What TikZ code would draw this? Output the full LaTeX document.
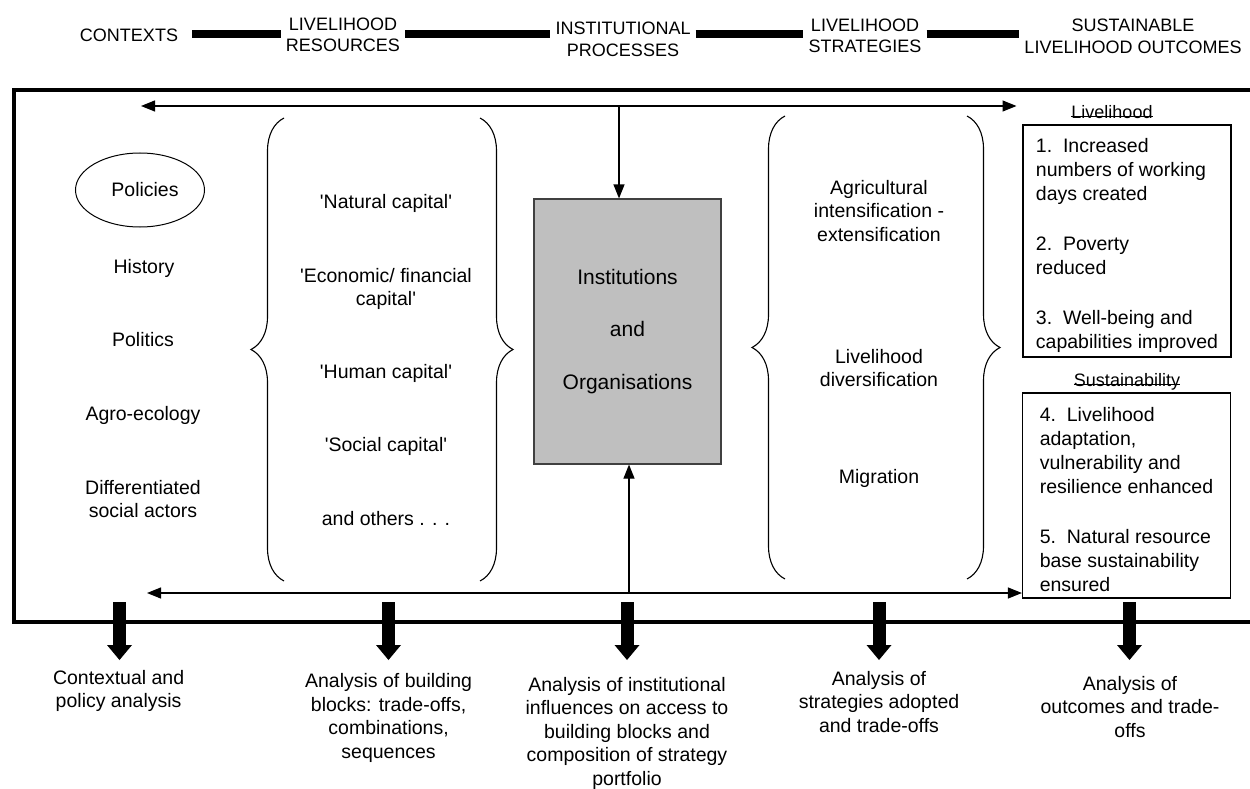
\documentclass[tikz,border=0pt]{standalone}
\usepackage{fontspec}
\setmainfont{Liberation Sans}
\usepackage{tikz}
\usetikzlibrary{arrows.meta,positioning,calc,decorations.pathreplacing,shapes.geometric}
\newcommand{\q}{\textquotesingle}
\tikzset{
  ttl/.style  = {align=center, font=\fontsize{18}{21.5}\selectfont, inner sep=5pt},
  txt/.style  = {align=center, font=\fontsize{19.5}{23.5}\selectfont, inner sep=1pt},
  pol/.style  = {ellipse, draw, line width=1pt, minimum width=129pt, minimum height=74pt,
                 inner sep=0pt, font=\fontsize{19.5}{23.5}\selectfont},
  ibox/.style = {rectangle, draw=black!75, line width=1.2pt, fill=black!25, align=center,
                 minimum width=187pt, minimum height=265pt, font=\fontsize{21}{52.5}\selectfont},
  obox/.style = {rectangle, draw, line width=1.2pt, align=left, minimum width=208pt,
                 inner sep=4pt, font=\fontsize{19.5}{24}\selectfont},
  lbl/.style  = {inner sep=0pt, font=\fontsize{18}{21}\selectfont},
  bar/.style  = {line width=7.5pt},
  frm/.style  = {line width=4pt},
  fl/.style   = {-{Triangle[length=14pt,width=11pt]}, line width=1.2pt},
  fll/.style  = {{Triangle[length=14pt,width=11pt]}-{Triangle[length=14pt,width=11pt]}, line width=1.2pt},
  fat/.style  = {-{Triangle[length=15pt,width=25pt,line width=0pt]}, line width=13pt},
  brc/.style  = {decorate, decoration={brace, amplitude=33pt}, line width=1.1pt},
}
\begin{document}
\begin{tikzpicture}[x=1pt, y=-1pt]
  \useasboundingbox (0,0) rectangle (1250,789);
  % header row
  \node[ttl] (ctx) at (129,35.5) {CONTEXTS};
  \node[ttl] (res) at (343,35) {LIVELIHOOD\\ RESOURCES};
  \node[ttl] (ins) at (623,39.5) {INSTITUTIONAL\\ PROCESSES};
  \node[ttl] (str) at (865,36) {LIVELIHOOD\\ STRATEGIES};
  \node[ttl] (out) at (1133,36.5) {SUSTAINABLE\\ LIVELIHOOD OUTCOMES};
  \coordinate (bary) at (0,34);
  \draw[bar] ([xshift=9pt]ctx.east |- bary) -- (res.west |- bary);
  \draw[bar] (res.east |- bary) -- (ins.west |- bary);
  \draw[bar] (ins.east |- bary) -- (str.west |- bary);
  \draw[bar] (str.east |- bary) -- (out.west |- bary);
  % frame
  \draw[frm] (1262,90) -- (13.5,90) -- (13.5,622) -- (1262,622);
  % contexts
  \node[pol] (pol) at (140,190) {\hspace{10pt}Policies};
  \node[txt] (his) at (144,268) {History};
  \node[txt] (plt) at (143,340) {Politics};
  \node[txt] (agr) at (143,415) {Agro-ecology};
  \node[txt] (dif) at (143,499) {Differentiated\\ social actors};
  % resources
  \draw[brc] (284,581) -- (284,118);
  \draw[brc] (480,118) -- (480,581);
  \node[txt] (nat) at (386,203) {\q Natural capital\q};
  \node[txt] (eco) at (386,289) {\q Economic/ financial\\ capital\q};
  \node[txt] (hum) at (386,373) {\q Human capital\q};
  \node[txt] (soc) at (386,446) {\q Social capital\q};
  \node[txt] (oth) at (386,519) {and others . . .};
  % institutions
  \node[ibox] (inst) at (627.5,331.5) {Institutions\\ and\\ Organisations};
  % strategies
  \draw[brc] (785,579) -- (785,116);
  \draw[brc] (967,116) -- (967,579);
  \node[txt] (agi) at (879,211) {Agricultural\\ intensification -\\ extensification};
  \node[txt] (div) at (879,368) {Livelihood\\ diversification};
  \node[txt] (mig) at (879,478) {Migration};
  % outcomes
  \node[lbl] (lvh) at (1112,112) {Livelihood};
  \draw[line width=0.8pt] ([yshift=2.5pt]lvh.base west) -- ([yshift=2.5pt]lvh.base east);
  \node[obox, minimum height=224pt] (ob1) at (1127,241)
    {\rule{0pt}{24pt}1.\ \ Increased\\ numbers of working\\ days created\\[26pt] 2.\ \ Poverty\\ reduced\\[26pt]
     3.\ \ Well-being and\\ capabilities improved};
  \node[lbl] (sus) at (1127,382) {Sustainability};
  \draw[line width=0.8pt] ([yshift=2.5pt]sus.base west) -- ([yshift=2.5pt]sus.base east);
  \node[obox, minimum height=205pt] (ob2) at (1126.5,495.5)
    {\rule{0pt}{23pt}4.\ \ Livelihood\\ adaptation,\\ vulnerability and\\ resilience enhanced\\[26pt]
     5.\ \ Natural resource\\ base sustainability\\ ensured};
  % flows inside the frame
  \coordinate (tl) at (141,106);
  \coordinate (tr) at (1016.5,106);
  \coordinate (td) at (619,106);
  \coordinate (bl) at (147,593);
  \coordinate (bu) at (629,593);
  \draw[fll] (tl) -- (tr);
  \draw[fl] (td) -- (td |- inst.north);
  \draw[fll] (bl) -- (bl -| ob2.west);
  \draw[fl] (bu) -- (bu |- inst.south);
  % analyses
  \node[txt] (t1) at (118.6,691) {Contextual and\\ policy analysis};
  \node[txt] (t2) at (388.6,718) {Analysis of building\\ blocks: trade-offs,\\ combinations,\\ sequences};
  \node[txt] (t3) at (627,733) {Analysis of institutional\\ influences on access to\\ building blocks and\\ composition of strategy\\ portfolio};
  \node[txt] (t4) at (879,702) {Analysis of\\ strategies adopted\\ and trade-offs};
  \node[txt] (t5) at (1130,707) {Analysis of\\ outcomes and trade-\\ offs};
  \coordinate (tip) at (0,660);
  \foreach \x/\n in {119.5/1, 388.5/2, 627/3, 879/4, 1129.5/5} {
    \coordinate (a\n) at (\x,602);
    \draw[fat] (a\n) -- (a\n |- tip);
  }
\end{tikzpicture}
\end{document}
